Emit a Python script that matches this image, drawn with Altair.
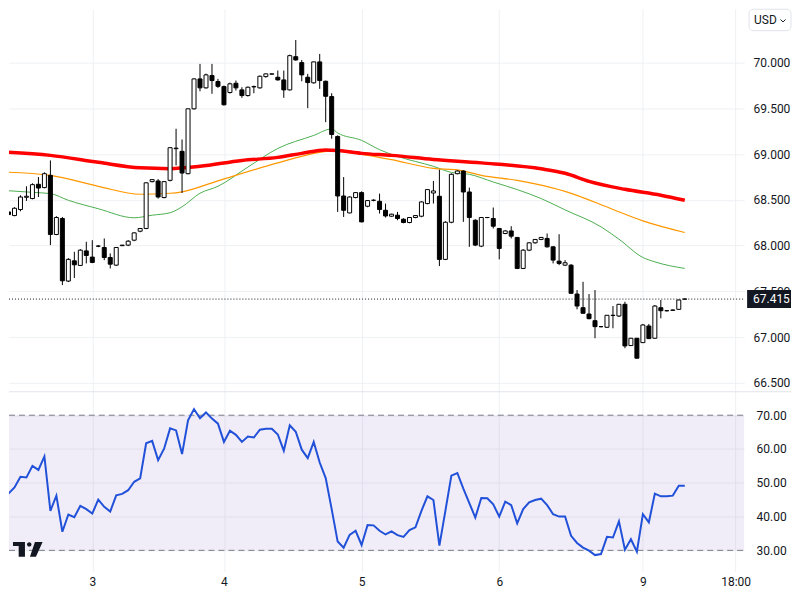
import altair as alt
import pandas as pd

# ---------------- data ----------------
opens = [
    68.204, 68.368, 68.328, 68.394, 68.528, 68.514, 68.670, 68.634, 68.768, 68.121,
    68.296, 67.612, 67.833, 67.783, 67.942, 67.874, 67.994, 67.979, 67.870, 67.786,
    67.999, 68.005, 68.059, 68.157, 68.187, 68.699, 68.706, 68.525, 68.713, 69.059,
    69.030, 68.786, 69.495, 69.822, 69.724, 69.858, 69.793, 69.738, 69.673, 69.774,
    69.702, 69.640, 69.735, 69.724, 69.847, 69.874, 69.840, 69.811, 69.702, 70.065,
    70.000, 69.840, 69.779, 70.008, 69.796, 69.629, 69.193, 68.542, 68.357, 68.525,
    68.579, 68.430, 68.495, 68.484, 68.386, 68.321, 68.332, 68.288, 68.252, 68.307,
    68.321, 68.459, 68.575, 68.539, 67.849, 68.255, 68.786, 68.815, 68.586, 68.277,
    67.994, 68.307, 68.296, 68.187, 68.132, 68.160, 68.089, 67.750, 67.950, 68.030,
    68.067, 68.078, 67.986, 67.830, 67.786, 67.786, 67.470, 67.321, 67.252, 67.179,
    67.114, 67.107, 67.236, 67.230, 67.358, 66.907, 66.987, 66.939, 67.121, 66.987,
    67.321, 67.288, 67.292, 67.303, 67.415,
]
closes = [
    68.368, 68.339, 68.408, 68.531, 68.539, 68.666, 68.629, 68.786, 68.121, 68.307,
    67.615, 67.849, 67.790, 67.950, 67.892, 67.816, 67.994, 67.870, 67.797, 67.979,
    68.005, 68.048, 68.139, 68.187, 68.686, 68.721, 68.531, 68.699, 69.070, 69.065,
    68.793, 69.495, 69.822, 69.724, 69.866, 69.804, 69.741, 69.539, 69.768, 69.724,
    69.640, 69.731, 69.738, 69.851, 69.877, 69.877, 69.811, 69.702, 70.076, 70.029,
    69.866, 69.782, 70.008, 69.804, 69.632, 69.215, 68.542, 68.386, 68.531, 68.579,
    68.259, 68.492, 68.495, 68.394, 68.324, 68.343, 68.296, 68.252, 68.307, 68.328,
    68.477, 68.612, 68.597, 67.849, 68.255, 68.779, 68.815, 68.586, 68.307, 68.005,
    68.307, 68.307, 68.212, 67.969, 68.160, 68.103, 67.750, 67.950, 68.030, 68.067,
    68.089, 67.986, 67.841, 67.805, 67.812, 67.478, 67.339, 67.260, 67.201, 67.114,
    67.114, 67.238, 67.238, 67.358, 66.903, 66.987, 66.769, 67.132, 66.983, 67.339,
    67.288, 67.288, 67.296, 67.405, 67.415,
]
highs = [
    68.386, 68.397, 68.419, 68.550, 68.648, 68.681, 68.749, 68.801, 68.931, 68.321,
    68.313, 67.863, 67.932, 67.961, 68.041, 68.059, 68.005, 68.078, 67.914, 67.983,
    68.005, 68.059, 68.146, 68.190, 68.691, 68.724, 68.727, 68.702, 69.073, 69.277,
    69.160, 69.498, 69.826, 69.986, 69.880, 69.986, 69.822, 69.749, 69.782, 69.804,
    69.731, 69.738, 69.749, 69.858, 69.880, 69.880, 69.913, 69.913, 70.087, 70.247,
    70.029, 69.877, 70.011, 70.095, 69.804, 69.665, 69.204, 68.749, 68.539, 68.583,
    68.593, 68.495, 68.506, 68.568, 68.459, 68.348, 68.368, 68.299, 68.310, 68.332,
    68.484, 68.615, 68.706, 68.830, 68.266, 68.790, 68.822, 68.822, 68.634, 68.288,
    68.310, 68.310, 68.416, 68.190, 68.168, 68.212, 68.092, 67.961, 68.037, 68.070,
    68.092, 68.132, 67.994, 68.124, 67.841, 67.797, 67.514, 67.604, 67.470, 67.514,
    67.121, 67.241, 67.339, 67.361, 67.386, 66.990, 66.990, 67.143, 67.143, 67.350,
    67.405, 67.296, 67.301, 67.410, 67.420,
]
lows = [
    68.190, 68.310, 68.321, 68.375, 68.488, 68.506, 68.531, 68.626, 68.005, 68.114,
    67.568, 67.601, 67.645, 67.776, 67.805, 67.808, 67.983, 67.841, 67.750, 67.776,
    67.994, 67.994, 68.048, 68.146, 68.179, 68.691, 68.514, 68.517, 68.702, 68.877,
    68.575, 68.779, 69.487, 69.687, 69.716, 69.659, 69.724, 69.531, 69.662, 69.695,
    69.615, 69.629, 69.665, 69.716, 69.836, 69.869, 69.804, 69.615, 69.695, 70.022,
    69.796, 69.502, 69.771, 69.713, 69.349, 69.168, 68.368, 68.313, 68.353, 68.517,
    68.255, 68.419, 68.484, 68.350, 68.307, 68.315, 68.277, 68.244, 68.244, 68.299,
    68.310, 68.452, 68.459, 67.776, 67.841, 68.244, 68.779, 68.259, 67.986, 67.994,
    67.983, 68.299, 68.187, 67.849, 68.124, 68.078, 67.743, 67.743, 67.939, 68.021,
    68.059, 67.979, 67.805, 67.786, 67.776, 67.476, 67.303, 67.258, 67.194, 66.987,
    67.105, 67.099, 67.096, 67.219, 66.878, 66.903, 66.767, 66.936, 66.980, 66.980,
    67.205, 67.280, 67.285, 67.296, 67.410,
]

rsi = [
    47.6, 46.8, 48.6, 51.8, 51.6, 55.0, 53.8, 57.8, 41.7, 46.2,
    35.5, 40.6, 39.8, 43.2, 42.2, 40.9, 45.0, 42.9, 41.5, 46.3,
    46.7, 47.8, 50.3, 51.3, 61.7, 62.4, 56.7, 60.1, 66.1, 65.5,
    58.5, 68.5, 71.8, 69.1, 70.8, 69.0, 67.5, 62.1, 65.4, 64.2,
    62.1, 63.7, 63.4, 65.7, 66.0, 66.0, 64.3, 59.5, 67.0, 65.1,
    59.8, 57.3, 62.1, 56.0, 51.4, 42.2, 32.6, 30.8, 34.6, 35.8,
    31.6, 37.5, 37.4, 35.8, 34.7, 35.6, 34.5,
    34.0, 36.0, 36.8, 41.7, 46.0, 44.9, 31.4, 41.7, 52.1, 52.9,
    48.3, 44.0, 39.7, 45.5, 45.4, 43.6, 40.0, 44.4, 43.4, 38.0,
    42.2, 44.2, 44.9, 45.3, 43.4, 40.7, 40.0, 40.0, 34.3, 32.2,
    30.8, 29.9, 28.6, 28.9, 34.0, 33.8, 38.6, 30.2, 33.3, 29.6,
    40.7, 38.3, 46.8, 46.0, 46.0, 46.2, 49.1, 49.1,
]

ma50_i = [0, 5, 8, 11, 16, 22, 25, 28, 30, 33, 36, 41, 46, 52, 55, 56, 60, 63,
          66, 72, 75, 78, 82, 86, 90, 94, 100, 103, 107, 109, 114]
ma50_v = [68.604, 68.582, 68.568, 68.495, 68.403, 68.304, 68.332, 68.359, 68.424,
          68.572, 68.648, 68.858, 69.062, 69.204, 69.275, 69.231, 69.150, 69.048,
          68.975, 68.866, 68.800, 68.779, 68.695, 68.612, 68.514, 68.390, 68.205,
          68.070, 67.870, 67.822, 67.750]
ma100_i = [0, 8, 16, 23, 28, 30, 36, 46, 53, 55, 60, 65, 72, 76, 80, 86, 89, 94,
           102, 107, 114]
ma100_v = [68.804, 68.768, 68.648, 68.561, 68.572, 68.588, 68.708, 68.904, 69.019,
           69.035, 68.997, 68.939, 68.844, 68.828, 68.768, 68.713, 68.675, 68.593,
           68.395, 68.270, 68.143]
ma200_i = [0, 8, 16, 23, 28, 33, 40, 46, 50, 54, 56, 60, 65, 72, 80, 90, 94, 98,
           104, 110, 114]
ma200_v = [69.022, 68.986, 68.910, 68.850, 68.841, 68.866, 68.931, 68.964, 69.008,
           69.046, 69.040, 69.008, 68.986, 68.942, 68.904, 68.839, 68.790, 68.702,
           68.615, 68.550, 68.495]

tick_idx = [15, 37, 60, 83, 107, 122.5]
tick_lbl = ["3", "4", "5", "6", "9", "18:00"]
price_ticks = [66.5, 67.0, 67.5, 68.0, 68.5, 69.0, 69.5, 70.0]
rsi_ticks = [30, 40, 50, 60, 70]
rsi_levels = [30, 70]
last_price = 67.415
currency = "USD"

# ---------------- layout / style ----------------
W, H1, H2 = 737, 384, 180
FONT = "Roboto"
TXT = "#131722"
GRID = "#EEF0F3"

xscale = alt.Scale(domain=[1.0833, 123.9167], nice=False, zero=False)
pscale = alt.Scale(domain=[66.402, 70.589], nice=False, zero=False)
rscale = alt.Scale(domain=[23.80, 76.94], nice=False, zero=False)

xaxis_top = alt.Axis(values=tick_idx, labels=False, ticks=False, domain=False,
                     grid=True, gridColor=GRID, title=None)
label_expr = " : ".join(
    f"datum.value == {v} ? '{t}'" for v, t in zip(tick_idx, tick_lbl)) + " : ''"
xaxis_bot = alt.Axis(values=tick_idx, labelExpr=label_expr, ticks=False, domain=False,
                     grid=True, gridColor=GRID, title=None, labelFont=FONT,
                     labelFontSize=12, labelColor=TXT, labelPadding=5,
                     labelFlush=False, labelOverlap=False)
paxis = alt.Axis(orient="right", values=price_ticks, format=".3f", ticks=False,
                 domain=False, grid=True, gridColor=GRID, title=None, labelFont=FONT,
                 labelFontSize=12, labelColor=TXT, labelPadding=9)
raxis = alt.Axis(orient="right", values=rsi_ticks, format=".2f", ticks=False,
                 domain=False, grid=True, gridColor=GRID, title=None, labelFont=FONT,
                 labelFontSize=12, labelColor=TXT, labelPadding=12)


def XT(f):
    return alt.X(f"{f}:Q", scale=xscale, axis=xaxis_top, title=None)


def XB(f):
    return alt.X(f"{f}:Q", scale=xscale, axis=xaxis_bot, title=None)


def YP(f):
    return alt.Y(f"{f}:Q", scale=pscale, axis=paxis, title=None)


def YR(f):
    return alt.Y(f"{f}:Q", scale=rscale, axis=raxis, title=None)


n = len(opens)
candles = pd.DataFrame({"i": list(range(n)), "o": opens, "h": highs,
                        "l": lows, "c": closes})

# moving averages
ma_layers = []
for ii, vv, col, sw in [(ma50_i, ma50_v, "#4CAF50", 1),
                        (ma100_i, ma100_v, "#FF9800", 1.2),
                        (ma200_i, ma200_v, "#FF0000", 3.5)]:
    ma_layers.append(
        alt.Chart(pd.DataFrame({"i": ii, "v": vv}))
        .mark_line(color=col, strokeWidth=sw, interpolate="monotone", clip=True)
        .encode(x=XT("i"), y=YP("v"))
    )

wicks = alt.Chart(candles).mark_rule(color="#000000", strokeWidth=1, clip=True).encode(
    x=XT("i"), y=YP("l"), y2="h")

bodies = alt.Chart(candles).transform_calculate(
    x0="datum.i - 0.3333", x1="datum.i + 0.3333",
    top="max(datum.o, datum.c)", bot="min(datum.o, datum.c)",
    kind="datum.c >= datum.o ? 'up' : 'down'",
).mark_rect(stroke="#000000", strokeWidth=1, clip=True).encode(
    x=XT("x0"), x2="x1", y=YP("top"), y2="bot",
    fill=alt.Fill("kind:N", scale=alt.Scale(domain=["up", "down"],
                                            range=["#ffffff", "#000000"]), legend=None),
)

last_df = pd.DataFrame({"p": [last_price], "lbl": [f"{last_price:.3f}"]})
pline = alt.Chart(last_df).mark_rule(color=TXT, strokeDash=[1, 2], strokeWidth=1).encode(
    y=YP("p"), x=alt.value(0), x2=alt.value(W))
pbox = alt.Chart(last_df).mark_rect(color=TXT, yOffset=-9, y2Offset=9).encode(
    y=YP("p"), y2="p", x=alt.value(740), x2=alt.value(784))
ptext = alt.Chart(last_df).mark_text(color="#ffffff", font=FONT, fontSize=12,
                                     align="left", baseline="middle").encode(
    y=YP("p"), x=alt.value(746), text="lbl:N")

one = pd.DataFrame({"t": [currency]})
usd_box = alt.Chart(one).mark_rect(fill="#ffffff", stroke="#E0E3EB", strokeWidth=1,
                                   cornerRadius=4).encode(
    x=alt.value(742), x2=alt.value(784), y=alt.value(0.5), y2=alt.value(22))
usd_txt = alt.Chart(one).mark_text(color=TXT, font=FONT, fontSize=12, align="left",
                                   baseline="middle").encode(
    x=alt.value(747), y=alt.value(11.5), text="t:N")
usd_chev = alt.Chart(one).mark_point(shape="M-1,-0.5L0,0.5L1,-0.5", size=25,
                                     filled=False, color=TXT, strokeWidth=1,
                                     opacity=1).encode(
    x=alt.value(776), y=alt.value(12))
separator = alt.Chart(one).mark_rule(color="#E0E3EB", strokeWidth=1).encode(
    x=alt.value(0), x2=alt.value(784), y=alt.value(H1))

top = alt.layer(*ma_layers, wicks, bodies, pline, pbox, ptext, separator,
                usd_box, usd_txt, usd_chev).properties(width=W, height=H1)

# ---------------- RSI pane ----------------
band = alt.Chart(pd.DataFrame({"lo": [rsi_levels[0]], "hi": [rsi_levels[1]]})).mark_rect(
    color="#7E57C2", opacity=0.11).encode(
    x=alt.value(0), x2=alt.value(W), y=YR("hi"), y2="lo")
levels = alt.Chart(pd.DataFrame({"lv": rsi_levels})).mark_rule(
    color="#787B86", strokeDash=[6, 4], strokeWidth=1).encode(
    x=alt.value(0), x2=alt.value(W), y=YR("lv"))
rsi_line = alt.Chart(pd.DataFrame({"i": list(range(len(rsi))), "r": rsi})).mark_line(
    color="#2151D9", strokeWidth=2, clip=True).encode(x=XB("i"), y=YR("r"))

logo_path = ("M-1,-0.487L-0.2,-0.487L-0.2,0.487L-0.62,0.487L-0.62,-0.22L-1,-0.22Z "
             "M-0.063,-0.333A0.15,0.15 0 1 0 0.237,-0.333A0.15,0.15 0 1 0 -0.063,-0.333Z "
             "M0.467,-0.487L0.98,-0.487L0.533,0.487L0.133,0.487Z")
logo = alt.Chart(one).mark_point(shape=logo_path, size=900, filled=True, color=TXT,
                                 opacity=1, strokeWidth=0).encode(
    x=alt.value(19), y=alt.value(158))

bottom = alt.layer(band, levels, rsi_line, logo).properties(width=W, height=H2)

chart = alt.vconcat(top, bottom, spacing=0, bounds="flush").properties(
    padding=0, background="#ffffff"
).configure_view(strokeWidth=0)

chart.save("out.html", embed_options={"renderer": "svg", "actions": False})
